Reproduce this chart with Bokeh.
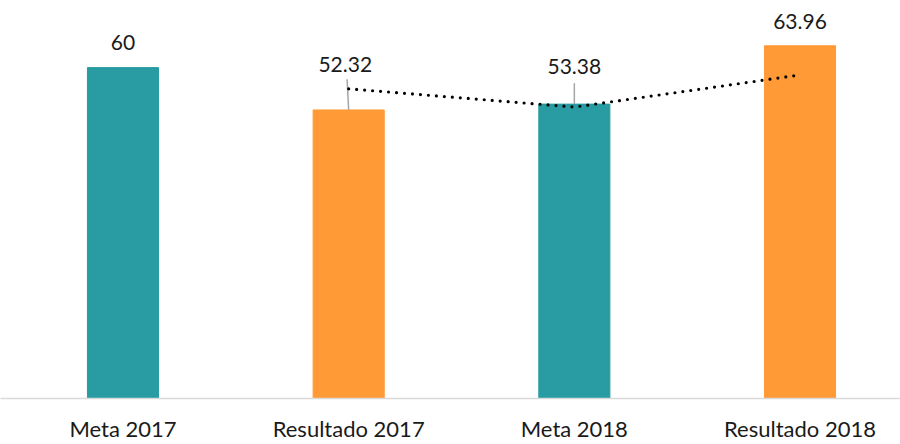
from bokeh.plotting import figure
from bokeh.models import ColumnDataSource, Range1d, FixedTicker
from bokeh.core.properties import value
from bokeh.embed import file_html
from bokeh.resources import INLINE

categories = ["Meta 2017", "Resultado 2017", "Meta 2018", "Resultado 2018"]
values = [60, 52.32, 53.38, 63.96]
value_labels = ["60", "52.32", "53.38", "63.96"]
colors = ["#289CA2", "#FF9A36", "#289CA2", "#FF9A36"]
# 2-period moving average trendline (as shown in the chart)
trend_x = [1, 2, 3]
trend_values = [56.16, 52.85, 58.67]

FONT = "Lato"
xs = list(range(len(categories)))

p = figure(width=900, height=444, output_backend="svg", toolbar_location=None,
           x_range=Range1d(-0.5428, 3.4453), y_range=Range1d(0, 72.17),
           min_border_left=0, min_border_right=0, min_border_top=0, min_border_bottom=43)
p.outline_line_color = None
p.background_fill_color = "white"
p.border_fill_color = "white"
p.xgrid.visible = False
p.ygrid.visible = False
p.yaxis.visible = False

src = ColumnDataSource(dict(x=xs, top=values, color=colors, label=value_labels))
p.vbar(x="x", top="top", bottom=0, width=0.315, color="color", source=src)

# leader lines for the two moved labels
p.segment(x0=[1 - 0.007, 2], y0=[57.9, 57.15], x1=[1, 2], y1=[values[1], values[2]],
          line_color="#A6A6A6", line_width=1.5)

# trendline
p.line(trend_x, trend_values, line_color="black", line_width=3.2,
       line_dash="0 8", line_cap="round")

# value labels
lab_x = [0, 1 - 0.015, 2, 3]
lab_y = [values[0] + 4.5, values[1] + 8.25, values[2] + 6.85, values[3] + 4.35]
p.text(x=lab_x, y=lab_y, text=value_labels, text_align="center",
       text_baseline="alphabetic", text_font=value(FONT), text_font_size="21px",
       text_color="#1a1a1a")

ax = p.xaxis[0]
ax.ticker = FixedTicker(ticks=xs)
ax.major_label_overrides = {i: c for i, c in enumerate(categories)}
ax.major_tick_line_color = None
ax.minor_tick_line_color = None
ax.major_tick_out = 0
ax.major_tick_in = 0
ax.axis_line_color = "#D9D9D9"
ax.axis_line_width = 1.5
ax.major_label_standoff = 16
ax.major_label_text_line_height = 1.0
ax.major_label_text_font = FONT
ax.major_label_text_font_size = "22px"
ax.major_label_text_color = "#1a1a1a"

open("out.html", "w").write(file_html(p, INLINE))
